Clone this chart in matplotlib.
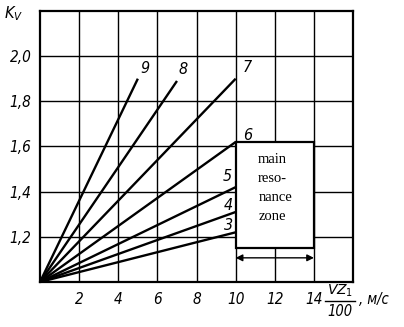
import matplotlib
matplotlib.use("Agg")
import matplotlib.pyplot as plt
from matplotlib.patches import Rectangle
from matplotlib.lines import Line2D

# Data: each line goes from origin (speed 0, Kv 1.0) to its end point
line_ids = ["9", "8", "7", "6", "5", "4", "3"]
x_start = [0.0, 0.0, 0.0, 0.0, 0.0, 0.0, 0.0]
y_start = [1.0, 1.0, 1.0, 1.0, 1.0, 1.0, 1.0]
x_end = [5.0, 7.0, 10.0, 10.0, 10.0, 10.0, 10.0]
y_end = [1.90, 1.89, 1.90, 1.62, 1.42, 1.31, 1.22]

x_ticks = [2, 4, 6, 8, 10, 12, 14]
x_ticklabels = ["2", "4", "6", "8", "10", "12", "14"]
y_ticks = [1.2, 1.4, 1.6, 1.8, 2.0]
y_ticklabels = ["1,2", "1,4", "1,6", "1,8", "2,0"]
grid_x = [2, 4, 6, 8, 10, 12, 14]
grid_y = [1.2, 1.4, 1.6, 1.8, 2.0]

zone_x = [10.0, 14.0]
zone_y = [1.15, 1.62]
arrow_y = 1.107

label_x = [5.37, 7.3, 10.6, 10.6, 9.55, 9.6, 9.65]
label_y = [1.947, 1.94, 1.95, 1.65, 1.465, 1.34, 1.25]

FONT = ["DejaVu Sans"]

fig = plt.figure(figsize=(4.04, 3.27), dpi=100)
ax = fig.add_axes([0.099, 0.1376, 0.775, 0.829])
ax.set_xlim(0, 16)
ax.set_ylim(1.0, 2.2)

for gx in grid_x:
    ax.axvline(gx, color="black", lw=1.0, zorder=1)
for gy in grid_y:
    ax.axhline(gy, color="black", lw=1.0, zorder=1)

for s in ax.spines.values():
    s.set_linewidth(1.6)

for xs, ys, xe, ye in zip(x_start, y_start, x_end, y_end):
    ax.plot([xs, xe], [ys, ye], color="black", lw=1.7, zorder=4,
            solid_capstyle="butt")

for lab, lx, ly in zip(line_ids, label_x, label_y):
    ax.text(lx, ly, lab, fontsize=11.5, fontstyle="italic", family=FONT,
            fontstretch="condensed", ha="center", va="center", zorder=6)

ax.add_patch(Rectangle((zone_x[0], zone_y[0]), zone_x[1] - zone_x[0],
                       zone_y[1] - zone_y[0], facecolor="white",
                       edgecolor="black", lw=1.6, zorder=3))
ax.text(11.15, 1.57, "main\nreso-\nnance\nzone", family="Liberation Serif",
        fontsize=10.5, ha="left", va="top", linespacing=1.6, zorder=6)

ax.annotate("", xy=(zone_x[0], arrow_y), xytext=(zone_x[1], arrow_y),
            arrowprops=dict(arrowstyle="<|-|>", color="black", lw=1.0,
                            mutation_scale=10, shrinkA=0, shrinkB=0),
            zorder=5)

ax.set_xticks(x_ticks)
ax.set_xticklabels(x_ticklabels)
ax.set_yticks(y_ticks)
ax.set_yticklabels(y_ticklabels)
ax.tick_params(length=0, pad=6)
ax.tick_params(axis="x", pad=7)
for t in ax.get_xticklabels() + ax.get_yticklabels():
    t.set_fontstyle("italic")
    t.set_family(FONT)
    t.set_fontstretch("condensed")
    t.set_fontsize(11)

fig.text(14 / 404, 1 - 14 / 327, "$K_V$", fontsize=10.5, ha="center",
         va="center")

fig.text(340 / 404, 1 - 291 / 327, "$VZ_1$", fontsize=10, ha="center",
         va="center")
fig.add_artist(Line2D([325 / 404, 355 / 404], [1 - 301 / 327, 1 - 301 / 327],
                      color="black", lw=1.0))
fig.text(340 / 404, 1 - 311 / 327, "100", fontsize=10.5, ha="center",
         va="center", fontstyle="italic", family=FONT,
         fontstretch="condensed")
fig.text(359 / 404, 1 - 300 / 327, ", м/с", fontsize=10.5, ha="left",
         va="center", fontstyle="italic", family=FONT,
         fontstretch="condensed")

fig.savefig("out.png", dpi=100)
